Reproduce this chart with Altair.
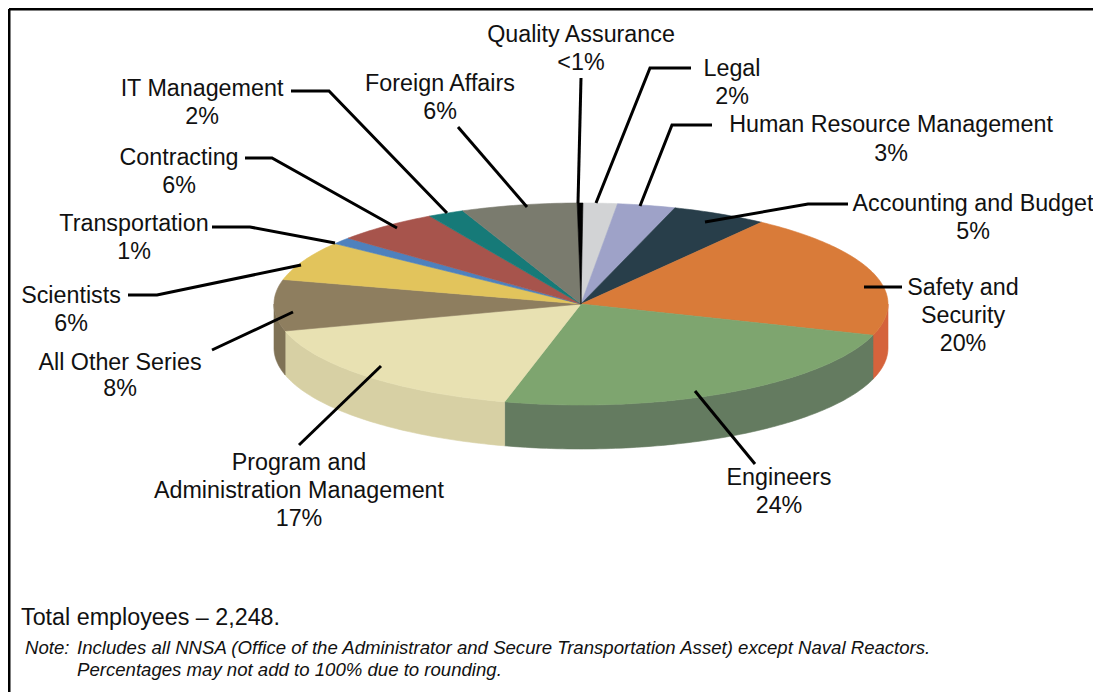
import math
import altair as alt
import pandas as pd

# Slices, clockwise from just past twelve o'clock
slices = ["Legal", "Human Resource Management", "Accounting and Budget", "Safety and Security",
          "Engineers", "Program and Administration Management", "All Other Series", "Scientists",
          "Transportation", "Contracting", "IT Management", "Foreign Affairs", "Quality Assurance"]
shares = [1.8, 3.05, 5.05, 20.0, 24.0, 16.7, 8.2, 6.3, 1.1, 5.5, 1.9, 6.1, 0.3]
top_colors = ["#d2d3d5", "#9ea2c8", "#283e4a", "#d97b39", "#7ea56f", "#e8e1b2", "#8e7e5f",
              "#e2c45c", "#4e81bd", "#a7544c", "#167a78", "#7a7b6e", "#000000"]
wall_colors = ["#b0b1b3", "#84879f", "#22343e", "#d5633c", "#647b60", "#d7d0a4", "#7f7256",
               "#bda44d", "#41699b", "#8b463f", "#126664", "#66675c", "#000000"]

# Pie shape on the page
cx, cy, rx, ry, depth = 581, 304, 307, 101, 44
start_share = 0.1


def rim(deg):
    r = math.radians(deg)
    return cx + rx * math.sin(r), cy - ry * math.cos(r)


tops, walls = [], []
acc = start_share
for name, share in zip(slices, shares):
    a0, a1 = acc * 3.6, (acc + share) * 3.6
    acc += share
    n = max(2, int(a1 - a0) + 1)
    pts = [(cx, cy)] + [rim(a0 + (a1 - a0) * i / n) for i in range(n + 1)] + [(cx, cy)]
    for k, (x, y) in enumerate(pts):
        tops.append({"part": name, "k": k, "x": x, "y": y})
    lo, hi = max(a0, 90), min(a1, 270)
    if hi > lo:
        m = max(2, int(hi - lo) + 1)
        upper = [rim(lo + (hi - lo) * i / m) for i in range(m + 1)]
        ring = upper + [(x, y + depth) for x, y in reversed(upper)] + [upper[0]]
        for k, (x, y) in enumerate(ring):
            walls.append({"part": name + " wall", "k": k, "x": x, "y": y})

label_text = ["Quality Assurance", "<1%", "Legal", "2%", "Human Resource Management", "3%",
              "Accounting and Budget", "5%", "Safety and", "Security", "20%", "Engineers", "24%",
              "Program and", "Administration Management", "17%", "All Other Series", "8%",
              "Scientists", "6%", "Transportation", "1%", "Contracting", "6%", "IT Management", "2%",
              "Foreign Affairs", "6%"]
label_x = [581, 581, 732, 732, 891, 891, 973, 973, 963, 963, 963, 779, 779, 299, 299, 299, 120, 120,
           71, 71, 134, 134, 179, 179, 202, 202, 440, 440]
label_y = [35, 63, 69, 97, 125, 154, 204, 232, 288, 316, 344, 478, 506, 463, 491, 519, 363, 389,
           296, 324, 224, 252, 158, 186, 89, 117, 84, 112]

leaders = {
    "Quality Assurance": [(581, 78), (578, 203)],
    "Legal": [(691, 68), (650, 68), (596, 203)],
    "HR": [(712, 125), (672, 125), (640, 206)],
    "Accounting": [(848, 204), (808, 204), (705, 222)],
    "Safety": [(902, 287), (864, 287)],
    "Engineers": [(755, 464), (695, 391)],
    "Program": [(381, 366), (299, 445)],
    "All Other": [(293, 312), (212, 350)],
    "Scientists": [(128, 295), (157, 295), (301, 265)],
    "Transportation": [(212, 227), (250, 227), (335, 243)],
    "Contracting": [(245, 158), (272, 158), (397, 228)],
    "IT": [(291, 91), (329, 91), (447, 213)],
    "Foreign": [(458, 127), (527, 207)],
    "frame left": [(9, 692), (9, 9)],
    "frame top": [(9, 9), (1101, 9)],
}
leader_rows = [{"name": n, "k": k, "x": p[0], "y": p[1]}
               for n, pts in leaders.items() for k, p in enumerate(pts)]

total_text = "Total employees \u2013 2,248."
note_text = ["Note:", "Includes all NNSA (Office of the Administrator and Secure Transportation Asset) except Naval Reactors.",
             "Percentages may not add to 100% due to rounding."]
note_x = [25, 77, 77]
note_y = [648, 648, 670]

X = alt.X("x:Q", scale=alt.Scale(domain=[8, 1093], nice=False, zero=False), axis=None)
Y = alt.Y("y:Q", scale=alt.Scale(domain=[692, 8], nice=False, zero=False), axis=None)
part_scale = alt.Scale(domain=slices + [s + " wall" for s in slices], range=top_colors + wall_colors)
FILL = alt.Fill("part:N", scale=part_scale, legend=None)
STROKE = alt.Stroke("part:N", scale=part_scale, legend=None)

wall_layer = alt.Chart(pd.DataFrame(walls)).mark_line(strokeWidth=0.6).encode(
    x=X, y=Y, stroke=STROKE, fill=FILL, order="k:Q",
)
top_layer = alt.Chart(pd.DataFrame(tops)).mark_line(strokeWidth=0.6).encode(
    x=X, y=Y, stroke=STROKE, fill=FILL, order="k:Q",
)
leader_layer = alt.Chart(pd.DataFrame(leader_rows)).mark_line(color="#000000", strokeWidth=3, strokeCap="butt").encode(
    x=X, y=Y, detail="name:N", order="k:Q",
)
label_layer = alt.Chart(pd.DataFrame({"t": label_text, "x": label_x, "y": label_y})).mark_text(
    font="Liberation Sans", fontSize=23.3, align="center", baseline="middle", color="#111111"
).encode(x=X, y=Y, text="t:N")
total_layer = alt.Chart(pd.DataFrame({"t": [total_text], "x": [21], "y": [618]})).mark_text(
    font="Liberation Sans", fontSize=23.3, align="left", baseline="middle", color="#111111"
).encode(x=X, y=Y, text="t:N")
note_layer = alt.Chart(pd.DataFrame({"t": note_text, "x": note_x, "y": note_y})).mark_text(
    font="Liberation Sans", fontSize=18.6, fontStyle="italic", align="left", baseline="middle", color="#111111"
).encode(x=X, y=Y, text="t:N")

chart = alt.layer(wall_layer, top_layer, leader_layer, label_layer, total_layer, note_layer).properties(
    width=1085, height=684, padding=0, autosize=alt.AutoSizeParams(type="none"), background="#ffffff"
).configure_view(stroke=None)

chart.save("out.html", embed_options={"renderer": "svg", "actions": False})
